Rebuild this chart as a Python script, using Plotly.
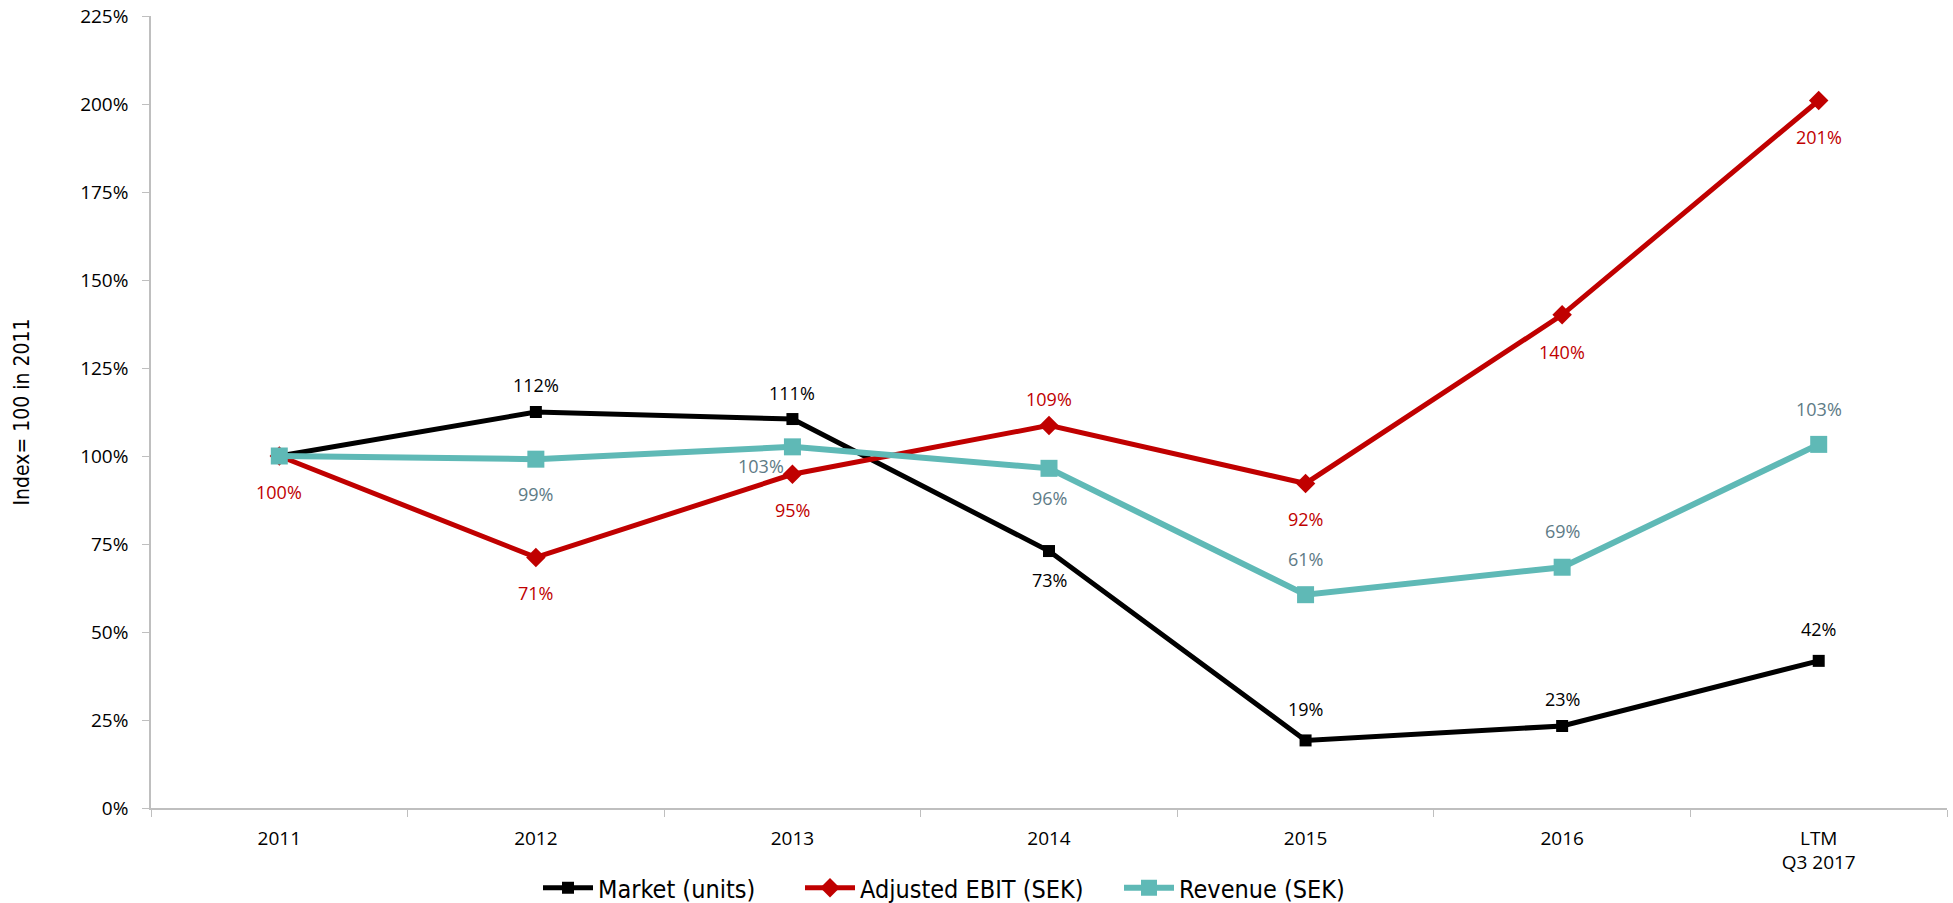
import plotly.graph_objects as go

categories = ["2011", "2012", "2013", "2014", "2015", "2016", "LTM<br>Q3 2017"]
market = [100, 112.5, 110.5, 73, 19.2, 23.3, 41.8]
ebit = [100, 71.2, 94.8, 108.7, 92.2, 140.1, 201]
revenue = [100, 99.1, 102.6, 96.5, 60.6, 68.4, 103.3]

market_labels = [None, "112%", "111%", "73%", "19%", "23%", "42%"]
ebit_labels = ["100%", "71%", "95%", "109%", "92%", "140%", "201%"]
revenue_labels = [None, "99%", "103%", "96%", "61%", "69%", "103%"]

# label placement (style): (xshift, yshift) in px
market_pos = [None, (0, 27), (0, 26), (0, -29), (0, 31), (0, 27), (0, 32)]
ebit_pos = [(0, -36), (0, -36), (0, -36), (0, 26), (0, -36), (0, -37), (0, -37)]
revenue_pos = [None, (0, -35), (-31, -19), (0, -30), (0, 36), (0, 36), (0, 35)]

BLACK = "#000000"
RED = "#C00000"
TEAL = "#5FB9B6"
LABEL_GRAY = "#5E7B86"
FONT = "Open Sans"
NARROW = "Liberation Sans Narrow, DejaVu Sans Condensed, Roboto Condensed, sans-serif"

fig = go.Figure()
fig.add_trace(go.Scatter(x=categories, y=market, name="Market (units)", mode="lines+markers",
                         line=dict(color=BLACK, width=5), legend="legend",
                         marker=dict(symbol="square", size=12, color=BLACK)))
fig.add_trace(go.Scatter(x=categories, y=ebit, name="Adjusted EBIT (SEK)", mode="lines+markers",
                         line=dict(color=RED, width=5), legend="legend2",
                         marker=dict(symbol="diamond", size=15, color=RED)))
fig.add_trace(go.Scatter(x=categories, y=revenue, name="Revenue (SEK)", mode="lines+markers",
                         line=dict(color=TEAL, width=6), legend="legend3",
                         marker=dict(symbol="square", size=17, color=TEAL)))

annotations = []
for vals, labels, pos, col in [(market, market_labels, market_pos, BLACK),
                               (ebit, ebit_labels, ebit_pos, RED),
                               (revenue, revenue_labels, revenue_pos, LABEL_GRAY)]:
    for i, (v, lab, p) in enumerate(zip(vals, labels, pos)):
        if lab is None:
            continue
        annotations.append(dict(x=i, y=v, xref="x", yref="y", text=lab, showarrow=False,
                                xshift=p[0], yshift=p[1],
                                font=dict(family=FONT, size=18, color=col)))


def legend_at(xpx):
    return dict(orientation="h", xref="container", x=xpx / 1953, xanchor="left",
                yref="container", y=1 - 888 / 903, yanchor="middle",
                font=dict(family=NARROW, size=25, color="#000000"),
                itemwidth=50, bgcolor="rgba(0,0,0,0)")


fig.update_layout(
    width=1953, height=903,
    margin=dict(l=151, r=6, t=16, b=95, autoexpand=False),
    plot_bgcolor="white", paper_bgcolor="white",
    annotations=annotations,
    showlegend=True,
    legend=legend_at(538),
    legend2=legend_at(800),
    legend3=legend_at(1119),
    xaxis=dict(type="category", range=[-0.5, 6.5], showgrid=False, automargin=False,
               showline=True, linecolor="#BFBFBF", linewidth=1.5,
               ticks="outside", tickson="boundaries", ticklen=7, tickcolor="#BFBFBF",
               ticklabelstandoff=12,
               tickfont=dict(family=FONT, size=19, color="#000000")),
    yaxis=dict(range=[0, 225], tickvals=[0, 25, 50, 75, 100, 125, 150, 175, 200, 225],
               ticktext=["0%", "25%", "50%", "75%", "100%", "125%", "150%", "175%", "200%", "225%"],
               showgrid=False, zeroline=False, automargin=False,
               showline=True, linecolor="#BFBFBF", linewidth=1.5,
               ticks="outside", ticklen=7, tickcolor="#BFBFBF",
               ticklabelstandoff=10,
               tickfont=dict(family=FONT, size=19, color="#000000"),
               title=dict(text="Index= 100 in 2011", standoff=45,
                          font=dict(family=NARROW, size=21, color="#000000"))),
)

fig.write_html("out.html")
